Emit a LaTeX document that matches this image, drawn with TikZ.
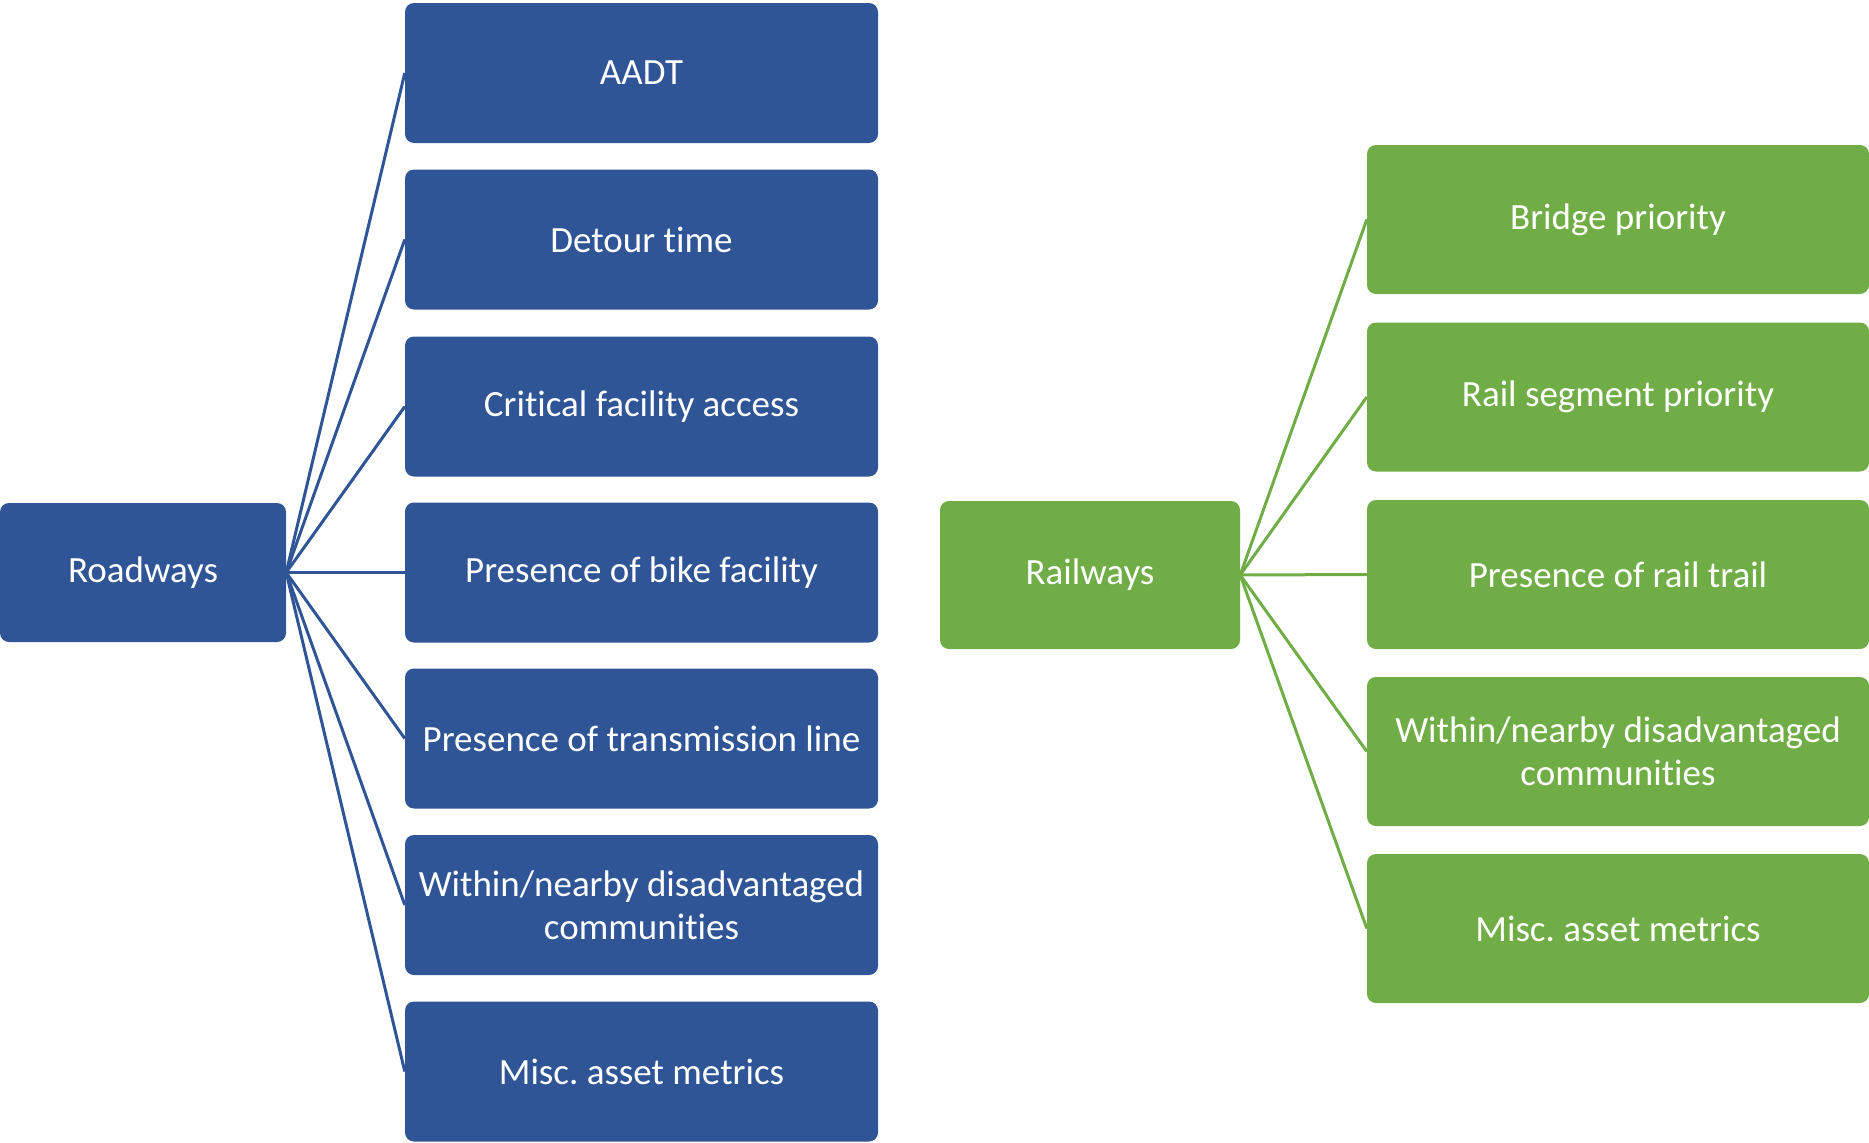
\documentclass[tikz,border=0pt]{standalone}
\usepackage{fontspec}
\setmainfont[Ligatures=NoCommon]{Carlito}
\definecolor{roadblue}{HTML}{2F5597}
\definecolor{railgreen}{HTML}{70AD47}
\begin{document}
\frenchspacing
\begin{tikzpicture}[x=1pt,y=-1pt,
  box/.style={rectangle, rounded corners=9pt, draw=none, text=white,
    align=center, inner sep=0pt, font=\fontsize{37}{43}\selectfont},
  roadbox/.style={box, fill=roadblue},
  railbox/.style={box, fill=railgreen},
  roadlink/.style={draw=roadblue, line width=3pt},
  raillink/.style={draw=railgreen, line width=3pt}]
\useasboundingbox (0,0) rectangle (1869,1143);

% Roadways tree
\node[roadbox, minimum width=286pt, minimum height=139pt] (road) at (143,572.5) {Roadways};
\begin{scope}[every node/.style={roadbox, minimum width=473pt, minimum height=140pt}]
\node (r1) at (641.5,73)    {AADT};
\node (r2) at (641.5,239.5) {Detour time};
\node (r3) at (641.5,406.5) {Critical facility access};
\node (r4) at (641.5,572.5) {Presence of bike facility};
\node (r5) at (641.5,738.5) {Presence of transmission line};
\node (r6) at (641.5,905)   {Within/nearby disadvantaged\\communities};
\node (r7) at (641.5,1071.5){Misc. asset metrics};
\end{scope}
\foreach \n in {r1,r2,r3,r4,r5,r6,r7}
  \draw[roadlink] (road.east) -- (\n.west);

% Railways tree
\node[railbox, minimum width=300pt, minimum height=148pt] (rail) at (1090,575) {Railways};
\begin{scope}[every node/.style={railbox, minimum width=502pt, minimum height=149pt}]
\node (g1) at (1618,219.5) {Bridge priority};
\node (g2) at (1618,397)   {Rail segment priority};
\node (g3) at (1618,574.5) {Presence of rail trail};
\node (g4) at (1618,751.5) {Within/nearby disadvantaged\\communities};
\node (g5) at (1618,928.5) {Misc. asset metrics};
\end{scope}
\foreach \n in {g1,g2,g3,g4,g5}
  \draw[raillink] (rail.east) -- (\n.west);
\end{tikzpicture}
\end{document}
